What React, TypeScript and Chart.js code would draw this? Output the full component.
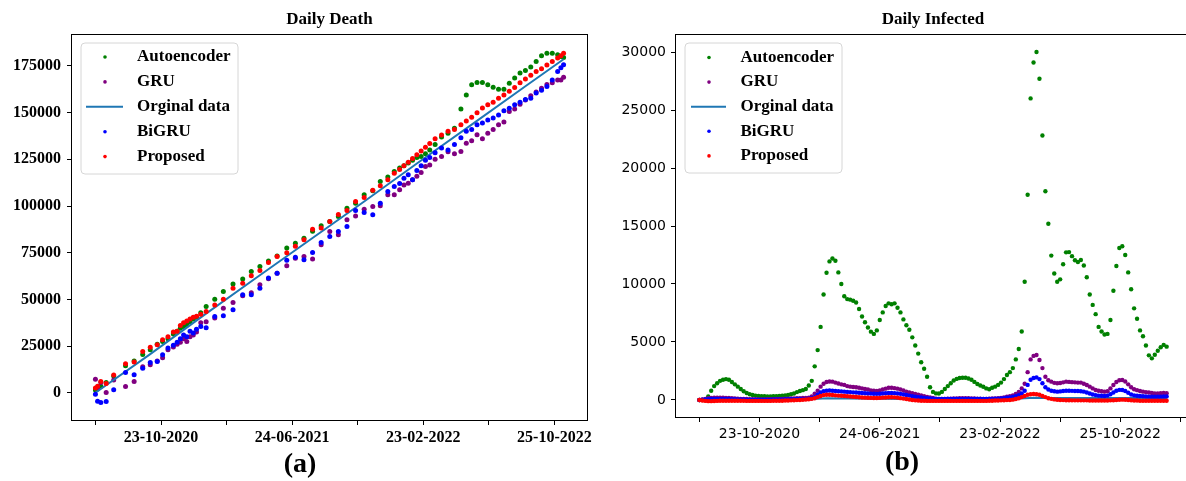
import React, { useEffect, useRef } from "react";
import { Chart, registerables } from "chart.js";

Chart.register(...registerables);

// ---------- shared ----------
const SERIES_NAMES = ["Autoencoder", "GRU", "Orginal data", "BiGRU", "Proposed"];
const SERIES_COLORS = ["#008000", "#800080", "#1f77b4", "#0000ff", "#ff0000"];

const X_TICK_DAYS = [0, 122, 244, 366, 488, 610, 732, 854, 976];
const X_TICK_LABELS = ["", "23-10-2020", "", "24-06-2021", "", "23-02-2022", "", "25-10-2022", ""];

// ---------- (a) Daily Death ----------
const DEATH_DAYS = [
  0, 4, 10, 20, 34, 56, 72, 88, 102, 115, 125, 135, 145, 152, 158, 164, 170, 176, 182, 188,
  196, 206, 222, 238, 256, 274, 290, 306, 322, 338, 356, 372, 388, 404, 420, 436, 452, 468, 484, 500,
  516, 530, 544, 556, 566, 574, 582, 590, 598, 606, 614, 622, 632, 644, 656, 668, 680, 690, 700, 710,
  720, 730, 740, 750, 760, 770, 780, 790, 800, 810, 820, 830, 840, 850, 860, 866, 871,
];
const DEATH_AUTOENCODER = [
  1500, 2000, 3500, 5500, 9000, 14500, 17000, 20500, 23000, 26000, 27500, 29000, 31500, 33000, 34500,
  35500, 36500, 38000, 39500, 40500, 42800, 46200, 50100, 54200, 58200, 60900, 64900, 67600, 70500, 73300,
  77500, 80100, 82800, 86500, 89500, 91700, 94400, 98800, 101500, 106000, 108200, 113100, 115500, 118500, 120300,
  121500, 123000, 124500, 126000, 126500, 128000, 130000, 133000, 137000, 139000, 141700, 152000, 159500, 164900, 166100,
  166100, 164900, 163600, 162500, 162500, 165800, 168500, 171200, 172500, 174500, 177400, 180400, 181800, 181800, 181000,
  180000, 179500,
];
const DEATH_GRU = [
  7200, 2500, 5500, 100, 6800, 3400, 6000, 14000, 15000, 17000, 18700, 23000, 24500, 26000, 27000,
  29000, 27500, 30000, 31000, 32500, 37500, 38000, 40000, 45300, 48300, 51900, 53500, 57800, 61000, 64000,
  68000, 72100, 73000, 71600, 79200, 86400, 84600, 92600, 94700, 98300, 99700, 100100, 106000, 106000, 108700,
  111300, 112200, 114000, 116000, 118000, 121100, 122000, 125000, 126500, 129000, 128000, 129200, 133600, 135000, 138100,
  136000, 139000, 141000, 143500, 145000, 150600, 152000, 154500, 156800, 159000, 161000, 163000, 165000, 166000, 167500,
  167500, 169000,
];
const DEATH_BIGRU = [
  -800, -4500, -5200, -4600, 1600, 10900, 9600, 13200, 16200, 16800, 20300, 24000, 25500, 27000, 29000,
  31000, 30000, 33000, 32000, 34000, 35500, 34800, 40800, 41200, 44400, 52500, 52500, 56000, 61400, 64000,
  71000, 72600, 71200, 75100, 80500, 83700, 86400, 89000, 97600, 96500, 95300, 101500, 107800, 110400, 112000,
  114900, 116700, 114000, 119000, 121500, 124500, 126000, 128500, 131000, 130000, 133000, 136500, 140000, 141000, 143500,
  144500, 146000, 147100, 148800, 151000, 152400, 154200, 155500, 157000, 157700, 160500, 162000, 164000, 167500, 172000,
  174000, 175600,
];
const DEATH_PROPOSED = [
  2500, 3500, 6000, 5000, 9500, 15500, 16500, 22100, 24400, 25700, 28400, 30000, 32500, 33000, 36000,
  37500, 38500, 39500, 40500, 41000, 42000, 43500, 47000, 50100, 56000, 58700, 62600, 65500, 69700, 73000,
  75000, 78500, 82000, 87600, 88200, 91700, 95500, 97600, 102400, 104500, 108500, 110800, 114000, 117600, 119500,
  121500, 123500, 125500, 127500, 129500, 131500, 133500, 136000, 138000, 140000, 141000, 143500, 145500, 147500, 150000,
  152500, 154200, 155500, 157700, 159500, 161500, 163500, 166000, 168000, 170000, 172000, 173500, 175500, 177400, 179200,
  180500, 181800,
];
const DEATH_ORIG_DAYS = [0, 100, 200, 300, 400, 500, 600, 700, 800, 871];
const DEATH_ORIG = [0, 20300, 41200, 61700, 82100, 102400, 123200, 143600, 164100, 178600];
const DEATH_Y_TICKS = [0, 25000, 50000, 75000, 100000, 125000, 150000, 175000];

// ---------- (b) Daily Infected (one value every 6 days) ----------
const INF_STEP_DAYS = 6;
const INF_AUTOENCODER = [
  0, 0, 50, 300, 800, 1200, 1450, 1650, 1750, 1800,
  1750, 1550, 1350, 1150, 950, 750, 600, 500, 430, 380,
  350, 330, 320, 310, 310, 320, 330, 350, 380, 400,
  430, 500, 560, 680, 780, 850, 950, 1250, 1650, 2900,
  4300, 6300, 9100, 10970, 11950, 12200, 12000, 11000, 10000, 8950,
  8700, 8650, 8550, 8400, 7850, 7200, 6700, 6250, 5890, 5700,
  6000, 6900, 7550, 8100, 8330, 8250, 8330, 7950, 7550, 6950,
  6450, 6050, 5400, 4700, 4000, 3250, 2700, 2000, 1100, 700,
  570, 560, 700, 950, 1200, 1450, 1680, 1820, 1900, 1920,
  1920, 1850, 1740, 1560, 1380, 1250, 1140, 1000, 920, 1050,
  1150, 1300, 1500, 1800, 2150, 2400, 2750, 3500, 4400, 5900,
  10200, 17700, 26000, 29100, 30000, 27700, 22800, 18000, 15200, 12450,
  10900, 10200, 10400, 11700, 12730, 12750, 12400, 12050, 11900, 12070,
  11600, 10580, 9100, 8200, 7400, 6300, 5900, 5650, 5700, 6900,
  9420, 11550, 13100, 13250, 12500, 11000, 9550, 7900, 7000, 6000,
  5500, 4700, 3850, 3590, 3900, 4250, 4550, 4750, 4600,
];
const INF_GRU = [
  0, 50, 100, 150, 180, 200, 200, 200, 190, 180,
  170, 150, 130, 110, 100, 90, 80, 70, 60, 60,
  50, 50, 50, 60, 60, 70, 80, 90, 100, 110,
  120, 130, 140, 150, 160, 170, 180, 200, 300, 550,
  800, 1150, 1400, 1550, 1600, 1580, 1500, 1420, 1350, 1300,
  1200, 1150, 1120, 1100, 1050, 1000, 950, 900, 830, 800,
  780, 820, 900, 980, 1050, 1050, 1020, 980, 900, 820,
  720, 650, 580, 520, 460, 400, 330, 270, 220, 180,
  120, 100, 100, 100, 110, 120, 130, 140, 150, 150,
  150, 150, 140, 130, 120, 110, 100, 100, 110, 130,
  130, 150, 180, 220, 280, 330, 400, 520, 700, 1000,
  1400, 2400, 3500, 3800, 3880, 3450, 2750, 2000, 1700, 1580,
  1480, 1440, 1460, 1520, 1580, 1560, 1540, 1520, 1500, 1500,
  1400, 1290, 1150, 1000, 860, 800, 760, 720, 750, 1000,
  1290, 1550, 1700, 1720, 1600, 1350, 1100, 920, 850, 780,
  720, 680, 640, 600, 570, 560, 580, 600, 590,
];
const INF_BIGRU = [
  0, 20, 40, 60, 80, 90, 100, 100, 100, 90,
  80, 70, 60, 50, 40, 40, 30, 30, 30, 30,
  30, 30, 30, 30, 30, 40, 40, 50, 50, 60,
  60, 70, 70, 80, 80, 90, 100, 110, 150, 250,
  450, 650, 750, 800, 820, 800, 780, 760, 740, 720,
  700, 680, 660, 640, 620, 600, 580, 560, 550, 540,
  530, 540, 560, 580, 600, 600, 590, 560, 530, 480,
  430, 380, 330, 290, 250, 210, 180, 150, 130, 110,
  100, 90, 90, 90, 90, 100, 100, 100, 100, 100,
  100, 100, 100, 90, 90, 80, 80, 80, 90, 100,
  110, 120, 140, 160, 190, 220, 260, 320, 420, 560,
  800, 1300, 1750, 1900, 1950, 1800, 1450, 1100, 900, 800,
  750, 720, 740, 780, 800, 800, 790, 780, 770, 760,
  720, 650, 560, 480, 420, 380, 360, 350, 380, 500,
  650, 800, 870, 860, 780, 620, 480, 400, 360, 340,
  320, 300, 290, 280, 280, 280, 290, 300, 300,
];
const INF_PROPOSED = [
  0, -50, -80, -100, -100, -90, -80, -70, -60, -60,
  -60, -60, -60, -70, -70, -70, -80, -80, -80, -80,
  -80, -80, -80, -80, -80, -70, -70, -60, -60, -50,
  -40, -30, -20, -10, 0, 20, 40, 60, 100, 150,
  250, 350, 420, 450, 450, 430, 400, 380, 360, 340,
  320, 300, 280, 260, 240, 220, 200, 190, 180, 170,
  170, 180, 200, 220, 240, 240, 230, 200, 160, 120,
  80, 40, 0, -30, -50, -60, -70, -80, -80, -80,
  -80, -80, -80, -80, -80, -80, -80, -80, -80, -80,
  -80, -80, -80, -80, -80, -80, -80, -80, -70, -60,
  -50, -40, -30, -20, -10, 0, 30, 80, 150, 250,
  350, 450, 500, 520, 500, 450, 350, 250, 150, 100,
  50, 20, 0, -10, -20, -20, -30, -30, -30, -30,
  -30, -30, -40, -40, -40, -40, -40, -40, -40, -30,
  -20, 0, 20, 30, 20, 0, -20, -40, -50, -60,
  -60, -60, -60, -60, -60, -60, -60, -60, -60,
];
const INF_ORIG_DAYS = [0, 60, 120, 180, 230, 260, 300, 360, 420, 480, 540, 600, 650, 680, 720, 780, 840, 900, 948];
const INF_ORIG = [0, 30, 20, 30, 80, 150, 130, 110, 80, 40, 30, 50, 120, 200, 180, 170, 180, 170, 170];
const INF_Y_TICKS = [0, 5000, 10000, 15000, 20000, 25000, 30000];

// ---------- helpers ----------
const SERIF = '"Liberation Serif", "Times New Roman", serif';
const SANS = '"DejaVu Sans", sans-serif';

const pairs = (xs: number[], ys: number[]) => ys.map((y, i) => ({ x: xs[i], y }));
const stepPairs = (step: number, ys: number[]) => ys.map((y, i) => ({ x: i * step, y }));

type LegendCfg = {
  box: [number, number, number, number];
  markerX: number;
  line: [number, number];
  textX: number;
  rowY: number;
  rowStep: number;
};

function makePlugins(title: string, caption: string, captionX: number, captionY: number, lg: LegendCfg) {
  return [
    {
      id: "mplFrame",
      afterDatasetsDraw(chart: any) {
        const { ctx, chartArea: a } = chart;
        ctx.save();
        ctx.strokeStyle = "#000";
        ctx.lineWidth = 1;
        ctx.strokeRect(Math.round(a.left) - 0.5, Math.round(a.top) - 0.5, Math.round(a.right - a.left) + 1, Math.round(a.bottom - a.top) + 1);
        ctx.restore();
      },
    },
    {
      id: "mplDecor",
      afterDraw(chart: any) {
        const { ctx, chartArea: a } = chart;
        ctx.save();
        // title
        ctx.fillStyle = "#000";
        ctx.font = `bold 17px ${SERIF}`;
        ctx.textAlign = "center";
        ctx.textBaseline = "middle";
        ctx.fillText(title, (a.left + a.right) / 2, 20);
        // caption
        ctx.font = `bold 28px ${SERIF}`;
        ctx.fillText(caption, captionX, captionY);
        // legend
        const [bx, by, bw, bh] = lg.box;
        const r = 4;
        ctx.beginPath();
        ctx.moveTo(bx + r, by);
        ctx.lineTo(bx + bw - r, by);
        ctx.quadraticCurveTo(bx + bw, by, bx + bw, by + r);
        ctx.lineTo(bx + bw, by + bh - r);
        ctx.quadraticCurveTo(bx + bw, by + bh, bx + bw - r, by + bh);
        ctx.lineTo(bx + r, by + bh);
        ctx.quadraticCurveTo(bx, by + bh, bx, by + bh - r);
        ctx.lineTo(bx, by + r);
        ctx.quadraticCurveTo(bx, by, bx + r, by);
        ctx.closePath();
        ctx.fillStyle = "rgba(255,255,255,0.8)";
        ctx.fill();
        ctx.strokeStyle = "#d6d6d6";
        ctx.lineWidth = 1;
        ctx.stroke();
        ctx.font = `bold 17px ${SERIF}`;
        ctx.textAlign = "left";
        SERIES_NAMES.forEach((name, i) => {
          const cy = lg.rowY + i * lg.rowStep;
          if (i === 2) {
            ctx.strokeStyle = SERIES_COLORS[i];
            ctx.lineWidth = 2;
            ctx.beginPath();
            ctx.moveTo(lg.line[0], cy);
            ctx.lineTo(lg.line[1], cy);
            ctx.stroke();
          } else {
            ctx.fillStyle = SERIES_COLORS[i];
            ctx.beginPath();
            ctx.arc(lg.markerX, cy, 1.8, 0, Math.PI * 2);
            ctx.fill();
          }
          ctx.fillStyle = "#000";
          ctx.fillText(name, lg.textX, cy);
        });
        ctx.restore();
      },
    },
  ];
}

function dotSet(label: string, color: string, data: any[], radius: number, order: number) {
  return {
    label,
    data,
    showLine: false,
    pointRadius: radius,
    pointBorderWidth: 0,
    pointBackgroundColor: color,
    borderColor: color,
    backgroundColor: color,
    order,
  };
}

function lineSet(label: string, color: string, data: any[], order: number) {
  return {
    label,
    data,
    showLine: true,
    pointRadius: 0,
    borderWidth: 2,
    borderColor: color,
    backgroundColor: color,
    fill: false,
    tension: 0,
    order,
  };
}

function buildConfig(opts: {
  datasets: any[];
  xMin: number;
  xMax: number;
  yMin: number;
  yMax: number;
  yTicks: number[];
  yAxisWidth: number;
  xAxisHeight: number;
  padRight: number;
  tickFont: any;
  xPad: number;
  yPad: number;
  plugins: any[];
}) {
  return {
    type: "scatter" as const,
    data: { datasets: opts.datasets },
    options: {
      responsive: false,
      animation: false,
      devicePixelRatio: 1,
      events: [],
      layout: { padding: { left: 0, top: 35, right: opts.padRight, bottom: 0 } },
      plugins: { legend: { display: false }, tooltip: { enabled: false }, title: { display: false } },
      scales: {
        x: {
          type: "linear",
          min: opts.xMin,
          max: opts.xMax,
          afterBuildTicks: (s: any) => {
            s.ticks = X_TICK_DAYS.filter((v) => v >= s.min && v <= s.max).map((v) => ({ value: v }));
          },
          afterFit: (s: any) => {
            s.height = opts.xAxisHeight;
          },
          grid: { drawOnChartArea: false, drawTicks: true, tickLength: 5, color: "#000", lineWidth: 1 },
          border: { display: false },
          ticks: {
            autoSkip: false,
            maxRotation: 0,
            minRotation: 0,
            padding: opts.xPad,
            color: "#000",
            font: opts.tickFont,
            callback: (v: any) => {
              const i = X_TICK_DAYS.indexOf(Number(v));
              return i >= 0 ? X_TICK_LABELS[i] : "";
            },
          },
        },
        y: {
          type: "linear",
          min: opts.yMin,
          max: opts.yMax,
          afterBuildTicks: (s: any) => {
            s.ticks = opts.yTicks.map((v) => ({ value: v }));
          },
          afterFit: (s: any) => {
            s.width = opts.yAxisWidth;
          },
          grid: { drawOnChartArea: false, drawTicks: true, tickLength: 5, color: "#000", lineWidth: 1 },
          border: { display: false },
          ticks: {
            autoSkip: false,
            padding: opts.yPad,
            color: "#000",
            font: opts.tickFont,
            callback: (v: any) => String(v),
          },
        },
      },
    },
    plugins: opts.plugins,
  };
}

function deathConfig() {
  const datasets = [
    dotSet(SERIES_NAMES[0], SERIES_COLORS[0], pairs(DEATH_DAYS, DEATH_AUTOENCODER), 2.5, 5),
    dotSet(SERIES_NAMES[1], SERIES_COLORS[1], pairs(DEATH_DAYS, DEATH_GRU), 2.5, 4),
    lineSet(SERIES_NAMES[2], SERIES_COLORS[2], pairs(DEATH_ORIG_DAYS, DEATH_ORIG), 3),
    dotSet(SERIES_NAMES[3], SERIES_COLORS[3], pairs(DEATH_DAYS, DEATH_BIGRU), 2.5, 2),
    dotSet(SERIES_NAMES[4], SERIES_COLORS[4], pairs(DEATH_DAYS, DEATH_PROPOSED), 2.5, 1),
  ];
  return buildConfig({
    datasets,
    xMin: -43.6,
    xMax: 914.6,
    yMin: -14570,
    yMax: 191570,
    yTicks: DEATH_Y_TICKS,
    yAxisWidth: 72,
    xAxisHeight: 61,
    padRight: 13,
    tickFont: { family: SERIF, size: 16, weight: "bold" },
    xPad: 3,
    yPad: 6,
    plugins: makePlugins("Daily Death", "(a)", 300, 465, {
      box: [81, 43, 157, 131],
      markerX: 105,
      line: [86, 123],
      textX: 137,
      rowY: 57,
      rowStep: 24.9,
    }),
  });
}

function infectedConfig() {
  const datasets = [
    dotSet(SERIES_NAMES[0], SERIES_COLORS[0], stepPairs(INF_STEP_DAYS, INF_AUTOENCODER), 2.2, 5),
    dotSet(SERIES_NAMES[1], SERIES_COLORS[1], stepPairs(INF_STEP_DAYS, INF_GRU), 2.2, 4),
    lineSet(SERIES_NAMES[2], SERIES_COLORS[2], pairs(INF_ORIG_DAYS, INF_ORIG), 3),
    dotSet(SERIES_NAMES[3], SERIES_COLORS[3], stepPairs(INF_STEP_DAYS, INF_BIGRU), 2.2, 2),
    dotSet(SERIES_NAMES[4], SERIES_COLORS[4], stepPairs(INF_STEP_DAYS, INF_PROPOSED), 2.2, 1),
  ];
  return buildConfig({
    datasets,
    xMin: -47.4,
    xMax: 995.4,
    yMin: -1466,
    yMax: 31466,
    yTicks: INF_Y_TICKS,
    yAxisWidth: 76,
    xAxisHeight: 64,
    padRight: 10,
    tickFont: { family: SANS, size: 14 },
    xPad: 4,
    yPad: 5,
    plugins: makePlugins("Daily Infected", "(b)", 302, 463, {
      box: [85, 43, 157, 130],
      markerX: 109,
      line: [91, 126],
      textX: 140.5,
      rowY: 57.5,
      rowStep: 24.6,
    }),
  });
}

function ChartCanvas({ makeConfig, width, height }: { makeConfig: () => any; width: number; height: number }) {
  const ref = useRef<HTMLCanvasElement | null>(null);
  useEffect(() => {
    if (!ref.current) return;
    const chart = new Chart(ref.current, makeConfig());
    return () => chart.destroy();
  }, [makeConfig]);
  return <canvas ref={ref} width={width} height={height} style={{ display: "block", width, height }} />;
}

export default function App() {
  return (
    <div style={{ position: "absolute", left: 0, top: 0, width: 1186, height: 481, overflow: "hidden", background: "#fff" }}>
      <div style={{ position: "absolute", left: 0, top: 0, width: 600, height: 481 }}>
        <ChartCanvas makeConfig={deathConfig} width={600} height={481} />
      </div>
      <div style={{ position: "absolute", left: 600, top: 0, width: 586, height: 481, overflow: "hidden" }}>
        <ChartCanvas makeConfig={infectedConfig} width={600} height={481} />
      </div>
    </div>
  );
}
